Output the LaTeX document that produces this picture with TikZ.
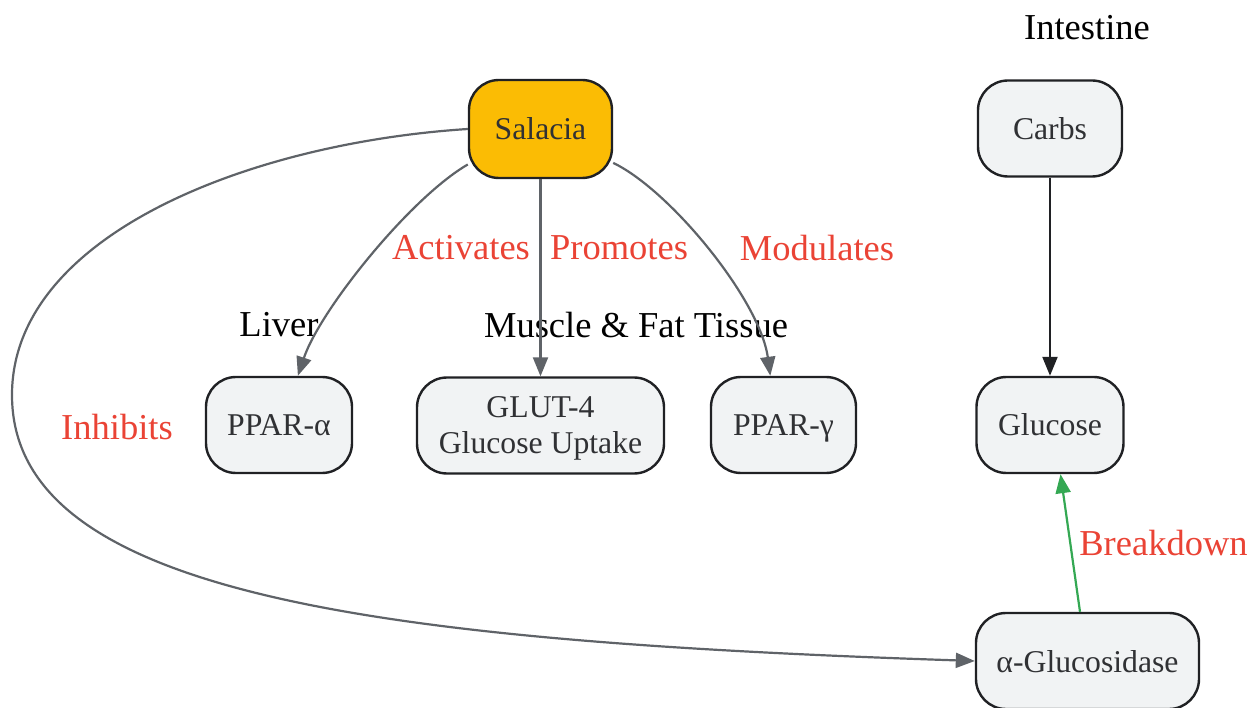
\documentclass[tikz,border=0pt]{standalone}
\usepackage{fontspec}
\setmainfont{Liberation Serif}
\usetikzlibrary{arrows.meta, positioning}
\definecolor{boxfill}{HTML}{F1F3F4}
\definecolor{boxline}{HTML}{202124}
\definecolor{boxtext}{HTML}{303134}
\definecolor{salfill}{HTML}{FBBC04}
\definecolor{edgegrey}{HTML}{5F6368}
\definecolor{relred}{HTML}{EA4335}
\definecolor{relgreen}{HTML}{34A853}
\tikzset{>={Triangle[length=19pt,width=15pt]}}

\begin{document}
\begin{tikzpicture}[x=1pt, y=-1pt,
    box/.style={draw=boxline, line width=2.4pt, rounded corners=30pt, fill=boxfill, text=boxtext,
        minimum height=96pt, inner sep=0pt, align=center, text height=22pt, text depth=0pt,
        font=\fontsize{31.7}{37}\selectfont},
    lbl/.style={font=\fontsize{36.5}{40}\selectfont, inner sep=0pt},
    rel/.style={lbl, text=relred},
    link/.style={->, draw=edgegrey, line width=2.2pt}]
    \useasboundingbox (0,0) rectangle (1254,708);
    % group titles
    \node[lbl] (intestine) at (1087,28) {Intestine};
    \node[lbl] (liver) at (279,325) {Liver};
    \node[lbl] (muscle) at (636,325) {Muscle \& Fat Tissue};
    \foreach \x/\y/\t in {461/248/Activates,619/248/Promotes,817/248/Modulates,117/427/Inhibits}
    {
        \node[rel] (\t) at (\x,\y) {\t};
    }
    % nodes
    \node[box, fill=salfill, minimum width=143pt, minimum height=98pt] (sal) at (540.5,129) {Salacia};
    \node[box, minimum width=146pt] (ppa) at (279,425) {PPAR-α};
    \node[box, minimum width=247pt, text height=] (glut) at (540.5,425.5) {GLUT-4\\[-1pt]Glucose Uptake};
    \node[box, minimum width=145pt] (ppg) at (783.5,425) {PPAR-γ};
    \node[box, minimum width=144pt] (carbs) at (1050,128.5) {Carbs};
    \node[box, minimum width=147pt] (glc) at (1050,425) {Glucose};
    \node[box, minimum width=223pt] (agl) at (1087.5,661) {α-Glucosidase};
    % edges
    \draw[link](sal.206) .. controls (410,198) and (320,310) .. (ppa.69);
    \draw[link](sal.south)--(glut.north);
    \draw[link](sal.-25) .. controls (670,190) and (760,300) .. (ppg.105);
    \draw[link](sal.west) .. controls (250,143) and (12,235) .. (12,395)
        .. controls (12,595) and (375,641) .. (agl.west);
    \draw[link, draw=boxline](carbs.south)--(glc.north);
    \draw[link, draw=relgreen]([xshift=-7.5pt]agl.north)--node[rel, right=8pt] (breakdown) {Breakdown}([xshift=10.5pt]glc.south);
\end{tikzpicture}
\end{document}
